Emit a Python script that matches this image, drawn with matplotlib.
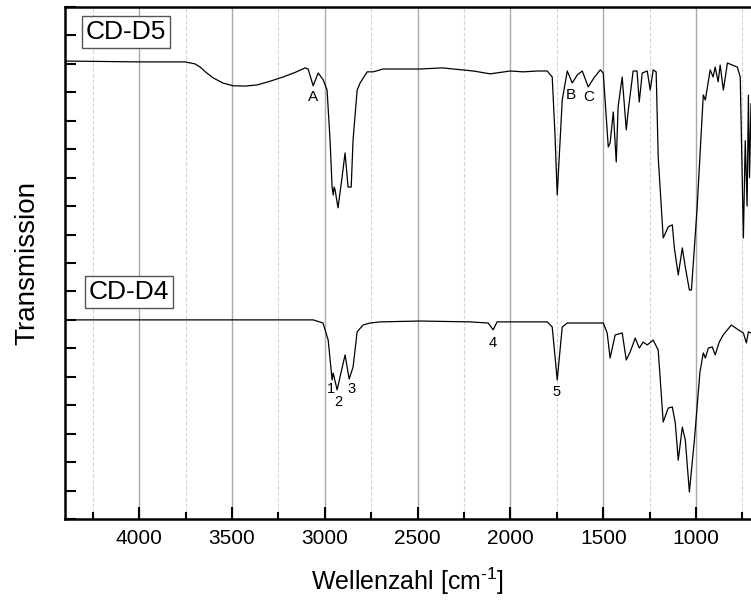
import matplotlib
matplotlib.use("Agg")
import matplotlib.pyplot as plt
from matplotlib.ticker import MultipleLocator

plt.rcParams['font.family'] = ['Liberation Sans', 'DejaVu Sans']
plt.rcParams['mathtext.fontset'] = 'custom'
plt.rcParams['mathtext.rm'] = 'Liberation Sans'

# CD-D5 spectrum (wavenumber, transmission a.u.)
d5_wn = [4400, 4000, 3753, 3700, 3672, 3640, 3602, 3550, 3494, 3430, 3365, 3300, 3225, 3160,
         3106, 3090, 3063, 3036, 3009, 2988,
         2972, 2961, 2955, 2950, 2945, 2929, 2907, 2891, 2875, 2858, 2848, 2826, 2810, 2772,
         2740, 2686, 2487, 2368, 2200, 2109, 2001, 1931, 1856, 1802, 1775, 1760, 1748, 1721,
         1694, 1667, 1640, 1613, 1581, 1550, 1516, 1500, 1473, 1463, 1446, 1430, 1420, 1398,
         1376, 1365, 1339, 1318, 1306, 1290, 1263, 1247, 1231, 1215, 1204, 1177, 1150, 1128,
         1117, 1096, 1074, 1058, 1036, 1025, 995, 961, 950, 924, 908, 897, 881, 870, 853,
         831, 805, 778, 762, 745, 735, 725, 718, 712, 704]
d5_tr = [16.10, 16.07, 16.07, 16.00, 15.89, 15.70, 15.51, 15.33, 15.23, 15.22, 15.26, 15.38,
         15.54, 15.70, 15.86, 15.82, 15.23, 15.68,
         15.44, 15.08, 13.33, 11.67, 11.39, 11.67, 11.57, 10.94, 12.03, 12.87, 11.67, 11.67,
         13.33, 15.08, 15.33, 15.72, 15.72, 15.82, 15.82, 15.86, 15.75, 15.65, 15.75, 15.72,
         15.75, 15.75, 15.54, 13.50, 11.39, 14.73, 15.75, 15.33, 15.61, 15.75, 15.19, 15.51,
         15.79, 15.68, 13.08, 13.22, 14.31, 12.55, 14.49, 15.54, 13.68, 14.38, 15.75, 15.75,
         14.66, 15.68, 15.75, 15.08, 15.79, 15.72, 12.73, 9.88, 10.27, 10.34, 9.53, 8.58,
         9.53, 8.86, 8.05, 8.05, 10.86, 14.91, 14.73, 15.79, 15.54, 15.89, 15.37, 15.96,
         15.08, 16.03, 15.96, 15.89, 15.54, 9.88, 13.30, 11.00, 14.90, 12.00, 14.60]

# CD-D4 spectrum
d4_wn = [4400, 3300, 3063, 3010, 2982, 2961, 2955, 2934, 2891, 2869, 2848, 2826, 2794, 2756,
         2702, 2487, 2218, 2120, 2093, 2072, 1802, 1775, 1748, 1721, 1694, 1500, 1479, 1463,
         1436, 1398, 1376, 1355, 1328, 1306, 1285, 1263, 1231, 1204, 1177, 1150, 1128, 1112,
         1096, 1074, 1058, 1036, 1009, 979, 961, 950, 934, 913, 897, 875, 854, 810, 772, 745,
         729, 718, 704]
d4_tr = [7.00, 7.00, 7.00, 6.89, 6.29, 4.89, 5.13, 4.54, 5.77, 4.92, 5.34, 6.58, 6.82, 6.89,
         6.93, 6.96, 6.93, 6.89, 6.65, 6.93, 6.93, 6.75, 4.89, 6.75, 6.89, 6.89, 6.54, 5.66,
         6.47, 6.54, 5.59, 5.87, 6.36, 6.01, 6.22, 6.12, 6.29, 5.94, 3.41, 3.90, 3.94, 3.38,
         2.07, 3.23, 2.78, 0.95, 2.78, 5.17, 5.84, 5.66, 6.01, 6.05, 5.77, 6.22, 6.47, 6.82,
         6.65, 6.54, 6.19, 6.58, 6.54]

# peak labels
pk_text = ['A', 'B', 'C', '1', '2', '3', '4', '5']
pk_wn = [3064, 1675, 1578, 2967, 2930, 2854, 2095, 1750]
pk_tr = [14.84, 14.91, 14.84, 4.57, 4.11, 4.57, 6.19, 4.47]

fig = plt.figure(figsize=(7.51, 6.01), dpi=100)
ax = fig.add_axes([65/751, 82/601, 686/751, 512/601])

ax.plot(d5_wn, d5_tr, color='black', lw=0.9)
ax.plot(d4_wn, d4_tr, color='black', lw=0.9)

for t, x, y in zip(pk_text, pk_wn, pk_tr):
    ax.text(x, y, t, ha='center', va='center', fontsize=11 if t.isalpha() else 10.5)

box = dict(boxstyle='square,pad=0.15', facecolor='white', edgecolor='#555555', lw=1)
ax.text(0.089, 0.951, 'CD-D5', transform=ax.transAxes, ha='center', va='center',
        fontsize=19, bbox=box)
ax.text(0.093, 0.443, 'CD-D4', transform=ax.transAxes, ha='center', va='center',
        fontsize=19, bbox=box)

ax.set_xlim(4400, 704)
ax.set_ylim(0, 18)
ax.xaxis.set_major_locator(MultipleLocator(500))
ax.xaxis.set_minor_locator(MultipleLocator(250))
ax.yaxis.set_major_locator(MultipleLocator(1))
ax.set_yticklabels([])
ax.tick_params(axis='x', which='major', direction='in', length=9, width=1.5,
               labelsize=15, pad=7)
ax.tick_params(axis='x', which='minor', direction='in', length=5, width=1.5)
ax.tick_params(axis='y', which='major', direction='in', length=8, width=1.5)
ax.grid(True, which='major', axis='x', color='#aaaaaa', lw=1.0, ls='-')
ax.grid(True, which='minor', axis='x', color='#d5d5d5', lw=0.8, ls='--')
ax.set_axisbelow(True)
for s in ['left', 'bottom', 'top']:
    ax.spines[s].set_linewidth(1.8)
ax.spines['right'].set_visible(False)

ax.set_xlabel(r'Wellenzahl [cm$^{\text{-1}}$]', fontsize=18, labelpad=13)
ax.set_ylabel('Transmission', fontsize=20, labelpad=14)

fig.savefig('out.png', dpi=100)
